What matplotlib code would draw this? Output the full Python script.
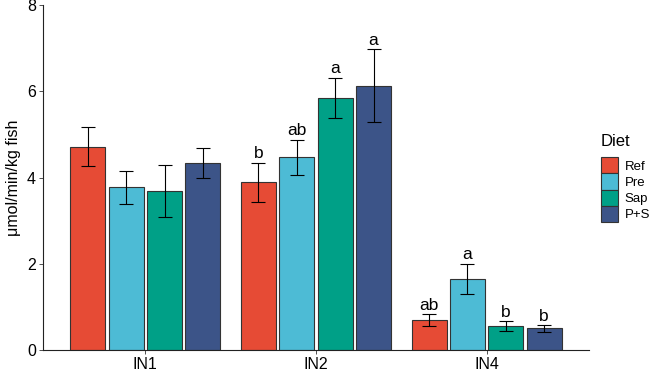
import matplotlib
matplotlib.use("Agg")
import matplotlib.pyplot as plt
from matplotlib.patches import Patch
import numpy as np

plt.rcParams['font.family'] = ['Liberation Sans', 'DejaVu Sans']

groups = ['IN1', 'IN2', 'IN4']
diets = ['Ref', 'Pre', 'Sap', 'P+S']
colors = ['#E64B35', '#4DBBD5', '#00A087', '#3C5488']

# mean values per diet, over IN1, IN2, IN4
means = {
    'Ref': [4.71, 3.89, 0.69],
    'Pre': [3.77, 4.47, 1.65],
    'Sap': [3.69, 5.85, 0.55],
    'P+S': [4.34, 6.13, 0.50],
}
errs = {
    'Ref': [0.45, 0.45, 0.14],
    'Pre': [0.38, 0.41, 0.35],
    'Sap': [0.61, 0.46, 0.12],
    'P+S': [0.35, 0.84, 0.08],
}
letters = {
    'Ref': ['', 'b', 'ab'],
    'Pre': ['', 'ab', 'a'],
    'Sap': ['', 'a', 'b'],
    'P+S': ['', 'a', 'b'],
}

fig = plt.figure(figsize=(6.53, 3.71), dpi=100)
ax = fig.add_axes([43 / 653, 21 / 371, 546 / 653, 345 / 371])

x = np.arange(len(groups))
slot = 0.9 / len(diets)
for k, d in enumerate(diets):
    pos = x + (k - 1.5) * slot
    ax.bar(pos, means[d], width=0.205, color=colors[k], edgecolor='#333333',
           linewidth=0.8, zorder=2)
    ax.errorbar(pos, means[d], yerr=errs[d], fmt='none', ecolor='black',
                elinewidth=0.8, capsize=5.2, capthick=0.8, zorder=3)
    for xi, m, e, t in zip(pos, means[d], errs[d], letters[d]):
        if t:
            ax.annotate(t, (xi, m + e), xytext=(0, 1), textcoords='offset points',
                        ha='center', va='bottom', fontsize=12.5)

ax.set_xlim(-0.6, 2.6)
ax.set_ylim(0, 8)
ax.set_yticks([0, 2, 4, 6, 8])
ax.set_xticks(x)
ax.set_xticklabels(groups)
ax.tick_params(axis='both', labelsize=11.5, length=3, width=0.6, color='#333333',
               labelcolor='black', pad=2)
ax.set_ylabel('μmol/min/kg fish', fontsize=11.5, labelpad=4)
for s in ['top', 'right']:
    ax.spines[s].set_visible(False)
for s in ['left', 'bottom']:
    ax.spines[s].set_linewidth(0.8)
    ax.spines[s].set_color('#222222')

handles = [Patch(facecolor=c, edgecolor='#333333', linewidth=0.8, label=d)
           for c, d in zip(colors, diets)]
leg = fig.legend(handles=handles, title='Diet', loc='upper left',
                 bbox_to_anchor=(601 / 653, 1 - 134 / 371), frameon=False,
                 fontsize=9.5, title_fontsize=12, handlelength=1.3,
                 handleheight=1.5, handletextpad=0.5, labelspacing=0.0,
                 borderpad=0, borderaxespad=0)
leg._legend_box.align = 'left'
leg._legend_box.sep = 6

fig.savefig('out.png', dpi=100)
